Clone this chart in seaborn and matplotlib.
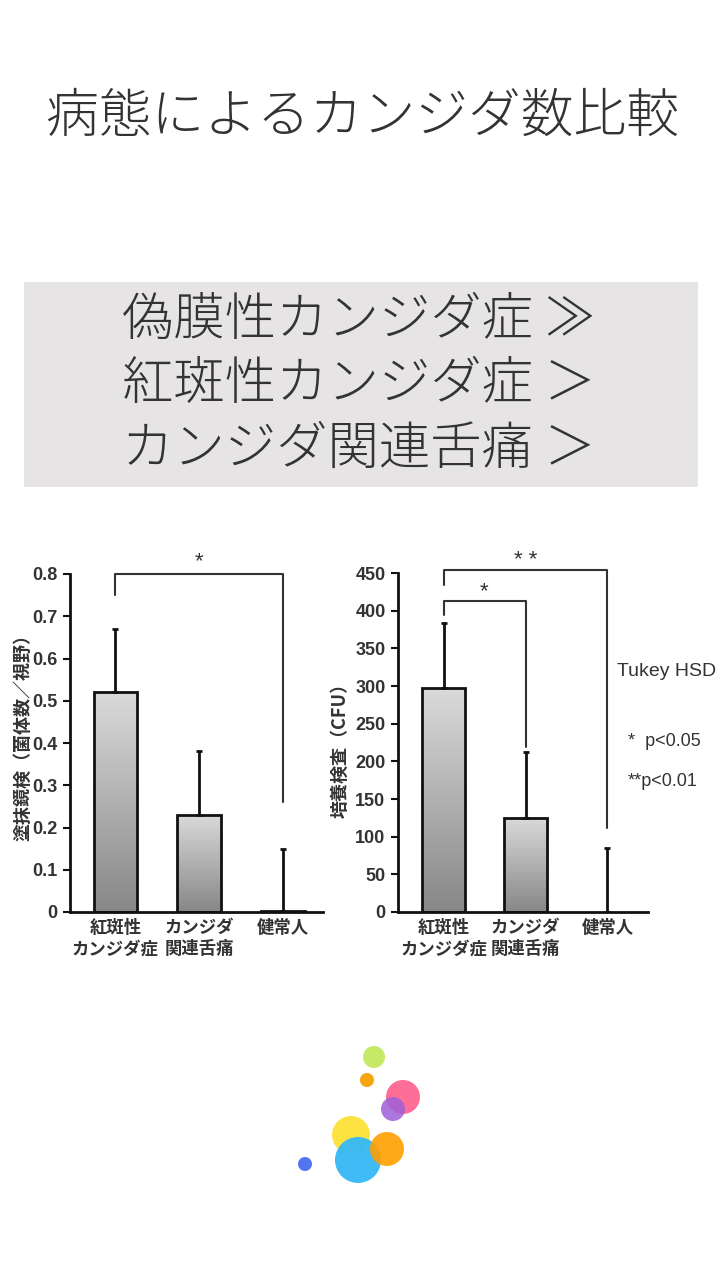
import numpy as np
import matplotlib
matplotlib.use("Agg")
import matplotlib.pyplot as plt
import seaborn as sns

sns.set_theme(style="white")
plt.rcParams['font.family'] = ['Noto Sans CJK JP', 'DejaVu Sans']

# ---------------- data ----------------
title = "病態によるカンジダ数比較"
box_lines = ["偽膜性カンジダ症 ≫", "紅斑性カンジダ症 ＞", "カンジダ関連舌痛 ＞"]
categories = ["紅斑性\nカンジダ症", "カンジダ\n関連舌痛", "健常人"]

smear_means = [0.52, 0.23, 0.003]
smear_upper = [0.67, 0.38, 0.15]
smear_ticks = [0, 0.1, 0.2, 0.3, 0.4, 0.5, 0.6, 0.7, 0.8]
smear_ticklabels = ["0", "0.1", "0.2", "0.3", "0.4", "0.5", "0.6", "0.7", "0.8"]
smear_ylabel = "塗抹鏡検（菌体数／視野）"

culture_means = [297, 125, 0]
culture_upper = [383, 212, 85]
culture_ticks = [0, 50, 100, 150, 200, 250, 300, 350, 400, 450]
culture_ticklabels = [str(t) for t in culture_ticks]
culture_ylabel = "培養検査（CFU）"

# brackets: (left idx, right idx, left bottom, top, right bottom, label, label y)
smear_brackets = [(0, 2, 0.75, 0.80, 0.26, "*", 0.83)]
culture_brackets = [(0, 2, 434, 454, 111, "* *", 466),
                    (0, 1, 394, 413, 219, "*", 425)]

legend_texts = ["Tukey HSD", "*  p<0.05", "**p<0.01"]

logo_x = [374, 367, 403, 393, 351, 358, 387, 305]
logo_y = [1057, 1080, 1097, 1109, 1135, 1160, 1149, 1164]
logo_r = [11, 7, 17, 12, 19, 23, 17, 7]
logo_c = ["#c4e860", "#f5a000", "#ff6690", "#9f5fd8", "#fde02c", "#35b8f6", "#ffa000", "#4a6cf0"]
logo_a = [0.95, 0.95, 0.95, 0.85, 0.9, 0.95, 0.9, 0.95]

W, H = 720, 1280
fig = plt.figure(figsize=(7.2, 12.8), dpi=100)
fig.patch.set_facecolor("white")

def frect(x0, y0, x1, y1):
    return [x0 / W, 1 - y1 / H, (x1 - x0) / W, (y1 - y0) / H]

TXT = "#333333"

# Title
fig.text(362 / W, 1 - 117 / H, title, ha="center", va="center", fontsize=38,
         color=TXT, fontweight="light")

# Gray box
bg = fig.add_axes(frect(24, 282, 698, 487))
bg.set_facecolor("#e6e4e5")
bg.set_xticks([]); bg.set_yticks([])
for s in bg.spines.values():
    s.set_visible(False)
for i, line in enumerate(box_lines):
    fig.text(359 / W, 1 - (320 + 64.5 * i) / H, line, ha="center", va="center",
             fontsize=37, color=TXT, fontweight="light",
             family=['Noto Sans CJK JP', 'DejaVu Sans'])

NUMF = ['Liberation Sans', 'Noto Sans CJK JP']

def grad_bars(ax):
    grad = np.linspace(0, 1, 256).reshape(-1, 1)
    cmap = matplotlib.colors.LinearSegmentedColormap.from_list("g", ["#878787", "#dadada"])
    for p in list(ax.patches):
        x0, y0 = p.get_x(), p.get_y()
        w, h = p.get_width(), p.get_height()
        if h <= 0:
            continue
        im = ax.imshow(grad, extent=[x0, x0 + w, y0, y0 + h], origin="lower",
                       cmap=cmap, aspect="auto", zorder=1.5)
        im.set_clip_path(p)
        p.set_facecolor("none")
        p.set_edgecolor("#111111")
        p.set_linewidth(2)
        p.set_zorder(2)

def draw_chart(rect, means, upper, ticks, ticklabels, ylabel, brackets, xlim, ylim,
               label_x, label_y):
    ax = fig.add_axes(rect)
    sns.barplot(x=list(range(len(categories))), y=means, ax=ax, color="#bbbbbb",
                width=0.52, errorbar=None, native_scale=False)
    grad_bars(ax)
    err = [u - m for u, m in zip(upper, means)]
    ax.errorbar(range(len(means)), means, yerr=[np.zeros(len(means)), err],
                fmt="none", ecolor="#111111", elinewidth=2, capsize=2, capthick=2, zorder=3)
    ax.set_xlim(*xlim)
    ax.set_ylim(*ylim)
    ax.set_yticks(ticks)
    ax.set_yticklabels(ticklabels, family=NUMF, fontweight="bold", fontsize=13, color=TXT)
    ax.set_xticks(range(len(categories)))
    ax.set_xticklabels(categories, family=['Noto Sans CJK JP'], fontweight="bold",
                       fontsize=12.5, color=TXT, linespacing=1.25)
    ax.tick_params(axis="y", length=5, width=1.5, color="#111111", pad=4, left=True)
    ax.tick_params(axis="x", length=0, pad=5)
    for s in ["top", "right"]:
        ax.spines[s].set_visible(False)
    for s in ["left", "bottom"]:
        ax.spines[s].set_linewidth(2)
        ax.spines[s].set_color("#111111")
    ax.set_ylabel(ylabel, fontsize=13, color=TXT, family=['Noto Sans CJK JP'], fontweight="bold")
    ax.yaxis.set_label_coords(label_x, label_y)
    for (i, j, yl, yt, yr, lab, ly) in brackets:
        ax.plot([i, i, j, j], [yl, yt, yt, yr], color="#333333", lw=1.5,
                clip_on=False, zorder=4)
        ax.text((i + j) / 2, ly, lab, ha="center", va="center", fontsize=16,
                color=TXT, family=NUMF, clip_on=False)
    ax.set_facecolor("none")
    return ax

draw_chart(frect(70, 574, 323, 912), smear_means, smear_upper, smear_ticks,
           smear_ticklabels, smear_ylabel, smear_brackets, (-0.543, 2.478), (0, 0.8),
           -0.15, 0.53)
draw_chart(frect(398, 573, 648, 912), culture_means, culture_upper, culture_ticks,
           culture_ticklabels, culture_ylabel, culture_brackets, (-0.555, 2.494), (0, 450),
           -0.195, 0.49)

fig.text(617 / W, 1 - 672 / H, legend_texts[0], ha="left", va="center", fontsize=14,
         color=TXT, family=NUMF)
fig.text(628 / W, 1 - 742 / H, legend_texts[1], ha="left", va="center", fontsize=13,
         color=TXT, family=NUMF)
fig.text(628 / W, 1 - 781 / H, legend_texts[2], ha="left", va="center", fontsize=13,
         color=TXT, family=NUMF)

# Logo
lg = fig.add_axes([0, 0, 1, 1], zorder=-1)
lg.set_xlim(0, W); lg.set_ylim(H, 0)
lg.axis("off")
for x, y, r, c, a in zip(logo_x, logo_y, logo_r, logo_c, logo_a):
    lg.add_patch(plt.Circle((x, y), r, color=c, alpha=a, lw=0))

fig.savefig("out.png", dpi=100)
